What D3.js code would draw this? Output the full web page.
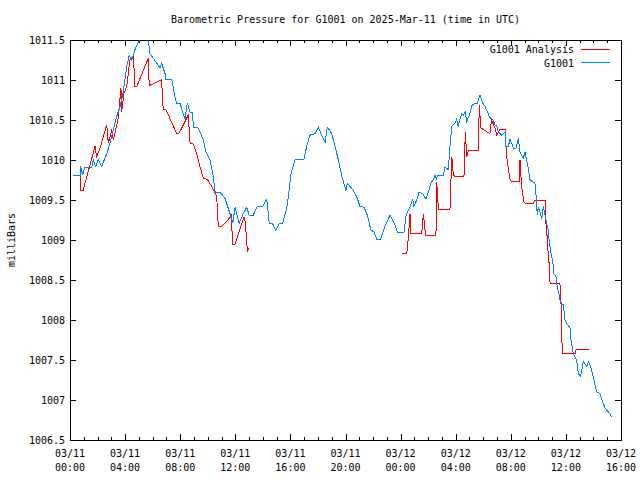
<!DOCTYPE html>
<html><head><meta charset="utf-8">
<script src="https://cdn.jsdelivr.net/npm/d3@7"></script>
<style>
body{margin:0;background:#fff}
text{font-family:"DejaVu Sans Mono",monospace;font-size:10px;fill:#000}
</style>
</head><body>
<svg id="c" width="640" height="480"></svg>
<script>
const titleText = "Barometric Pressure for G1001 on 2025-Mar-11 (time in UTC)";
const yLabelText = "milliBars";
const seriesNames = ["G1001 Analysis", "G1001"];
const seriesColors = ["#ff0000", "#0080ff"];
const yTickValues = [1006.5, 1007, 1007.5, 1008, 1008.5, 1009, 1009.5, 1010, 1010.5, 1011, 1011.5];
const startUTC = Date.UTC(2025, 2, 11, 0, 0);
const endUTC = Date.UTC(2025, 2, 12, 16, 0);

// G1001 observations: minutes since 03/11 00:00 UTC, pressure in mb
const blueMinutes = [14,44,47,55,65,95,101,112,123,138,160,174,189,203,218,232,247,258,269,283,302,315,330,341,348,378,392,399,414,418,443,457,465,479,493,501,511,523,534,537,559,581,592,610,622,632,653,675,697,709,719,737,755,770,780,798,816,839,857,868,883,896,912,926,944,955,961,980,1019,1031,1045,1067,1082,1096,1111,1121,1140,1150,1169,1183,1193,1202,1208,1231,1249,1263,1281,1295,1310,1324,1336,1353,1372,1394,1416,1426,1455,1464,1481,1493,1498,1510,1521,1536,1551,1561,1571,1582,1590,1597,1600,1626,1633,1648,1655,1663,1677,1684,1691,1699,1706,1713,1721,1728,1742,1750,1764,1774,1786,1798,1808,1818,1829,1841,1851,1859,1866,1880,1895,1899,1909,1917,1931,1943,1953,1960,1974,1982,1992,2004,2025,2033,2035,2040,2047,2055,2062,2069,2076,2083,2088,2094,2103,2108,2117,2123,2131,2137,2149,2156,2163,2178,2182,2192,2207,2214,2224,2236,2251,2258,2268,2279,2294,2308,2320,2330,2345,2360];
const bluePressure = [1009.81,1009.81,1009.91,1009.81,1009.91,1009.91,1010.0,1009.92,1010.01,1009.92,1010.08,1010.21,1010.38,1010.54,1010.67,1010.85,1011.17,1011.31,1011.25,1011.38,1011.5,1011.56,1011.55,1011.5,1011.33,1011.21,1011.15,1011.21,1011.08,1011.01,1011.01,1010.79,1010.71,1010.71,1010.58,1010.51,1010.71,1010.60,1010.60,1010.41,1010.40,1010.25,1010.10,1010.0,1009.83,1009.60,1009.60,1009.52,1009.33,1009.21,1009.41,1009.21,1009.33,1009.41,1009.31,1009.31,1009.42,1009.42,1009.51,1009.21,1009.20,1009.12,1009.21,1009.21,1009.40,1009.63,1009.81,1010.0,1010.01,1010.17,1010.31,1010.33,1010.41,1010.31,1010.22,1010.41,1010.33,1010.22,1010.0,1009.81,1009.71,1009.62,1009.71,1009.63,1009.54,1009.42,1009.41,1009.31,1009.13,1009.10,1009.01,1009.01,1009.17,1009.31,1009.19,1009.10,1009.10,1009.31,1009.41,1009.51,1009.42,1009.50,1009.60,1009.58,1009.51,1009.60,1009.71,1009.75,1009.81,1009.75,1009.81,1009.81,1009.91,1009.88,1010.17,1010.42,1010.46,1010.51,1010.42,1010.51,1010.58,1010.56,1010.60,1010.48,1010.58,1010.68,1010.71,1010.71,1010.81,1010.71,1010.67,1010.60,1010.53,1010.51,1010.44,1010.42,1010.35,1010.31,1010.35,1010.17,1010.17,1010.26,1010.15,1010.15,1010.27,1010.10,1010.02,1010.10,1009.96,1009.75,1009.71,1009.46,1009.31,1009.41,1009.35,1009.27,1009.42,1009.31,1009.21,1009.13,1008.96,1008.85,1008.73,1008.58,1008.54,1008.40,1008.31,1008.20,1008.19,1008.0,1007.96,1007.90,1007.75,1007.58,1007.50,1007.33,1007.30,1007.48,1007.42,1007.48,1007.42,1007.29,1007.10,1007.08,1006.98,1006.90,1006.85,1006.79];

// G1001 Analysis: minutes since 03/11 00:00 UTC, pressure in mb (null = no data)
const redMinutes = [44,47,57,109,116,131,160,167,182,189,210,222,225,235,247,261,276,283,291,341,345,399,406,418,465,476,515,523,537,552,566,581,598,617,639,646,661,697,704,707,719,758,762,770,772,780,1100,1446,1467,1474,1481,1485,1532,1539,1546,1549,1594,1597,1604,1607,1655,1663,1670,1680,1716,1722,1728,1735,1778,1783,1789,1829,1836,1851,1859,1873,1895,1902,1917,1924,1957,1960,1967,1977,1982,2018,2025,2069,2072,2076,2079,2088,2091,2134,2139,2141,2146,2200,2204,2262];
const redPressure = [1009.92,1009.62,1009.62,1010.17,1010.04,1010.15,1010.44,1010.21,1010.38,1010.25,1010.52,1010.90,1010.60,1010.83,1010.92,1011.25,1011.31,1010.92,1010.92,1011.27,1010.93,1011.0,1010.63,1010.63,1010.33,1010.34,1010.56,1010.21,1010.20,1010.08,1009.92,1009.77,1009.76,1009.67,1009.54,1009.17,1009.17,1009.28,1009.31,1008.95,1008.95,1009.29,1009.25,1009.0,1008.85,1008.90,null,1008.83,1008.83,1009.04,1009.33,1009.08,1009.08,1009.33,1009.13,1009.06,1009.06,1009.73,1009.42,1009.38,1009.38,1010.04,1009.81,1009.79,1009.79,1010.35,1010.04,1010.12,1010.12,1010.69,1010.40,1010.33,1010.50,1010.40,1010.31,1010.38,1010.38,1010.04,1009.75,1009.73,1009.73,1010.0,1009.67,1009.48,1009.46,1009.46,1009.50,1009.50,1009.21,1009.19,1008.96,1008.67,1008.46,1008.46,1008.21,1007.81,1007.58,1007.58,1007.63,1007.63];

const M = {left: 70, right: 621, top: 40, bottom: 440};
const svg = d3.select("#c");
const toDate = m => new Date(startUTC + m * 60000);

const x = d3.scaleUtc().domain([new Date(startUTC), new Date(endUTC)]).range([M.left, M.right]);
const y = d3.scaleLinear().domain([1006.5, 1011.5]).range([M.bottom, M.top]);

const g = svg.append("g");

svg.append("defs").append("clipPath").attr("id", "clip")
  .append("rect").attr("x", M.left).attr("y", M.top)
  .attr("width", M.right - M.left + 1).attr("height", M.bottom - M.top);

const majorTicks = d3.utcHour.every(4).range(new Date(startUTC), new Date(endUTC + 1));
const minorTicks = d3.utcHour.every(1).range(new Date(startUTC), new Date(endUTC + 1));
const fmtDate = d3.utcFormat("%m/%d");
const fmtTime = d3.utcFormat("%H:%M");

const xAxisB = d3.axisBottom(x).tickValues(majorTicks).tickSize(-6).tickFormat("");
const xAxisT = d3.axisTop(x).tickValues(majorTicks).tickSize(-6).tickFormat("");
const xMinorB = d3.axisBottom(x).tickValues(minorTicks).tickSize(-3).tickFormat("");
const xMinorT = d3.axisTop(x).tickValues(minorTicks).tickSize(-3).tickFormat("");
const yAxisL = d3.axisLeft(y).tickValues(yTickValues).tickSize(-6).tickFormat("");
const yAxisR = d3.axisRight(y).tickValues(yTickValues).tickSize(-6).tickFormat("");

function styleAxis(sel) {
  sel.select(".domain").remove();
  sel.selectAll("line").attr("stroke", "#000").attr("shape-rendering", "crispEdges");
}
g.append("g").attr("transform", `translate(0,${M.bottom})`).call(xMinorB).call(styleAxis);
g.append("g").attr("transform", `translate(0,${M.top})`).call(xMinorT).call(styleAxis);
g.append("g").attr("transform", `translate(0,${M.bottom})`).call(xAxisB).call(styleAxis);
g.append("g").attr("transform", `translate(0,${M.top})`).call(xAxisT).call(styleAxis);
g.append("g").attr("transform", `translate(${M.left},0)`).call(yAxisL).call(styleAxis);
g.append("g").attr("transform", `translate(${M.right},0)`).call(yAxisR).call(styleAxis);

g.append("rect").attr("x", M.left + 0.5).attr("y", M.top + 0.5)
  .attr("width", M.right - M.left).attr("height", M.bottom - M.top)
  .attr("fill", "none").attr("stroke", "#000").attr("stroke-width", 1);

g.selectAll(".ylab").data(yTickValues).enter().append("text")
  .attr("x", M.left - 5).attr("y", d => y(d) + 4)
  .attr("text-anchor", "end").text(d => String(d));

const xl = g.selectAll(".xlab").data(majorTicks).enter().append("g");
xl.append("text").attr("x", d => x(d)).attr("y", M.bottom + 17).attr("text-anchor", "middle").text(d => fmtDate(d));
xl.append("text").attr("x", d => x(d)).attr("y", M.bottom + 31).attr("text-anchor", "middle").text(d => fmtTime(d));

svg.append("text").attr("x", (M.left + M.right) / 2).attr("y", 23).attr("text-anchor", "middle").text(titleText);
svg.append("text").attr("transform", `translate(15,${(M.top + M.bottom) / 2}) rotate(-90)`)
  .attr("text-anchor", "middle").text(yLabelText);

const line = d3.line().defined(d => d.p !== null).x(d => x(toDate(d.m))).y(d => y(d.p));
const redData = redMinutes.map((m, i) => ({m, p: redPressure[i]}));
const blueData = blueMinutes.map((m, i) => ({m, p: bluePressure[i]}));
const plot = svg.append("g").attr("clip-path", "url(#clip)");
plot.append("path").datum(redData).attr("d", line).attr("fill", "none")
  .attr("stroke", seriesColors[0]).attr("stroke-width", 1).attr("shape-rendering", "crispEdges");
plot.append("path").datum(blueData).attr("d", line).attr("fill", "none")
  .attr("stroke", seriesColors[1]).attr("stroke-width", 1).attr("shape-rendering", "crispEdges");

seriesNames.forEach((name, i) => {
  const ly = 49 + i * 13.5;
  svg.append("text").attr("x", 574).attr("y", ly + 4).attr("text-anchor", "end").text(name);
  svg.append("line").attr("x1", 581).attr("x2", 610).attr("y1", ly).attr("y2", ly)
    .attr("stroke", seriesColors[i]).attr("stroke-width", 1).attr("shape-rendering", "crispEdges");
});
</script>
</body></html>
